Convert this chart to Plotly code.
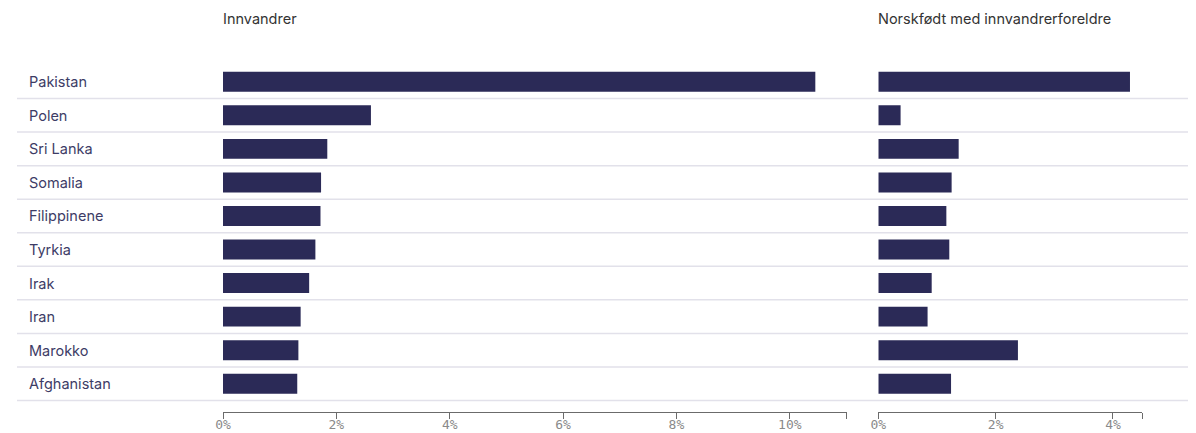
import plotly.graph_objects as go

# the page places the figure 8px from the top-left corner
OFF = 8
W, H = 1188, 425

countries = ["Pakistan", "Polen", "Sri Lanka", "Somalia", "Filippinene",
             "Tyrkia", "Irak", "Iran", "Marokko", "Afghanistan"]
innvandrer = [10.45, 2.61, 1.84, 1.73, 1.72, 1.63, 1.52, 1.37, 1.33, 1.31]
norskfodt = [4.29, 0.38, 1.37, 1.25, 1.16, 1.21, 0.91, 0.84, 2.38, 1.24]

left_ticks = [0, 2, 4, 6, 8, 10, 11]
left_text = ["0%", "2%", "4%", "6%", "8%", "10%", ""]
right_ticks = [0, 2, 4, 4.5]
right_text = ["0%", "2%", "4%", ""]

titles = ["Innvandrer", "Norskfødt med innvandrerforeldre"]

BAR = "#2b2a57"
GRID = "#e2e1ea"
AX = "#6b6b6b"

fig = go.Figure()
fig.add_trace(go.Bar(x=innvandrer, y=countries, orientation="h",
                     marker=dict(color=BAR, line=dict(width=0)),
                     xaxis="x", yaxis="y", hoverinfo="x+y"))
fig.add_trace(go.Bar(x=norskfodt, y=countries, orientation="h",
                     marker=dict(color=BAR, line=dict(width=0)),
                     xaxis="x2", yaxis="y2", hoverinfo="x+y"))

top = 65.2 - OFF
bottom = 412.5 - OFF
plot_h = bottom - top
yr = [9.5 + 11.5 / 33.55, -0.5]

axis_common = dict(showgrid=False, zeroline=False, showline=True, linecolor=AX,
                   linewidth=1, ticks="outside", ticklen=6, tickcolor=AX,
                   tickmode="array", ticklabelstandoff=-6,
                   tickfont=dict(family="DejaVu Sans Mono", size=13, color="#8a8a8a"))

fig.update_layout(
    width=W, height=H,
    margin=dict(l=0, r=0, t=top, b=H - bottom, autoexpand=False),
    paper_bgcolor="white", plot_bgcolor="rgba(0,0,0,0)",
    showlegend=False, bargap=0.404,
    xaxis=dict(domain=[(223 - OFF) / W, (846.5 - OFF) / W], range=[0, 11], anchor="y",
               tickvals=left_ticks, ticktext=left_text, **axis_common),
    xaxis2=dict(domain=[(878.3 - OFF) / W, (1142.3 - OFF) / W], range=[0, 4.5], anchor="y2",
                tickvals=right_ticks, ticktext=right_text, **axis_common),
    yaxis=dict(domain=[0, 1], range=yr, showticklabels=False, showgrid=False,
               zeroline=False, showline=False, ticks="", anchor="x",
               type="category", categoryorder="array", categoryarray=countries),
    yaxis2=dict(domain=[0, 1], range=yr, showticklabels=False, showgrid=False,
                zeroline=False, showline=False, ticks="", anchor="x2",
                type="category", categoryorder="array", categoryarray=countries),
    font=dict(family="Inter", size=15, color="#333"),
)

shapes = []
for i in range(len(countries)):
    shapes.append(dict(type="line", xref="paper", yref="y", x0=(17 - OFF) / W, x1=1,
                       y0=i + 0.5, y1=i + 0.5, line=dict(color=GRID, width=1.5),
                       layer="below"))
fig.update_layout(shapes=shapes)

ann = []
for c in countries:
    ann.append(dict(x=(27 - OFF) / W, y=c, xref="paper", yref="y", text=c,
                    showarrow=False, xanchor="left", yanchor="middle",
                    font=dict(family="Inter", size=14.5, color="#3d3c66")))
title_y = 1 + (top - (19 - OFF)) / plot_h
ann.append(dict(x=(223 - OFF) / W, y=title_y, xref="paper", yref="paper",
                text=titles[0], showarrow=False, xanchor="left", yanchor="middle",
                xshift=-2, font=dict(family="Inter", size=14.5, color="#333")))
ann.append(dict(x=(878.3 - OFF) / W, y=title_y, xref="paper", yref="paper",
                text=titles[1], showarrow=False, xanchor="left", yanchor="middle",
                xshift=-2, font=dict(family="Inter", size=14.5, color="#333")))
fig.update_layout(annotations=ann)

fig.write_html("out.html")
